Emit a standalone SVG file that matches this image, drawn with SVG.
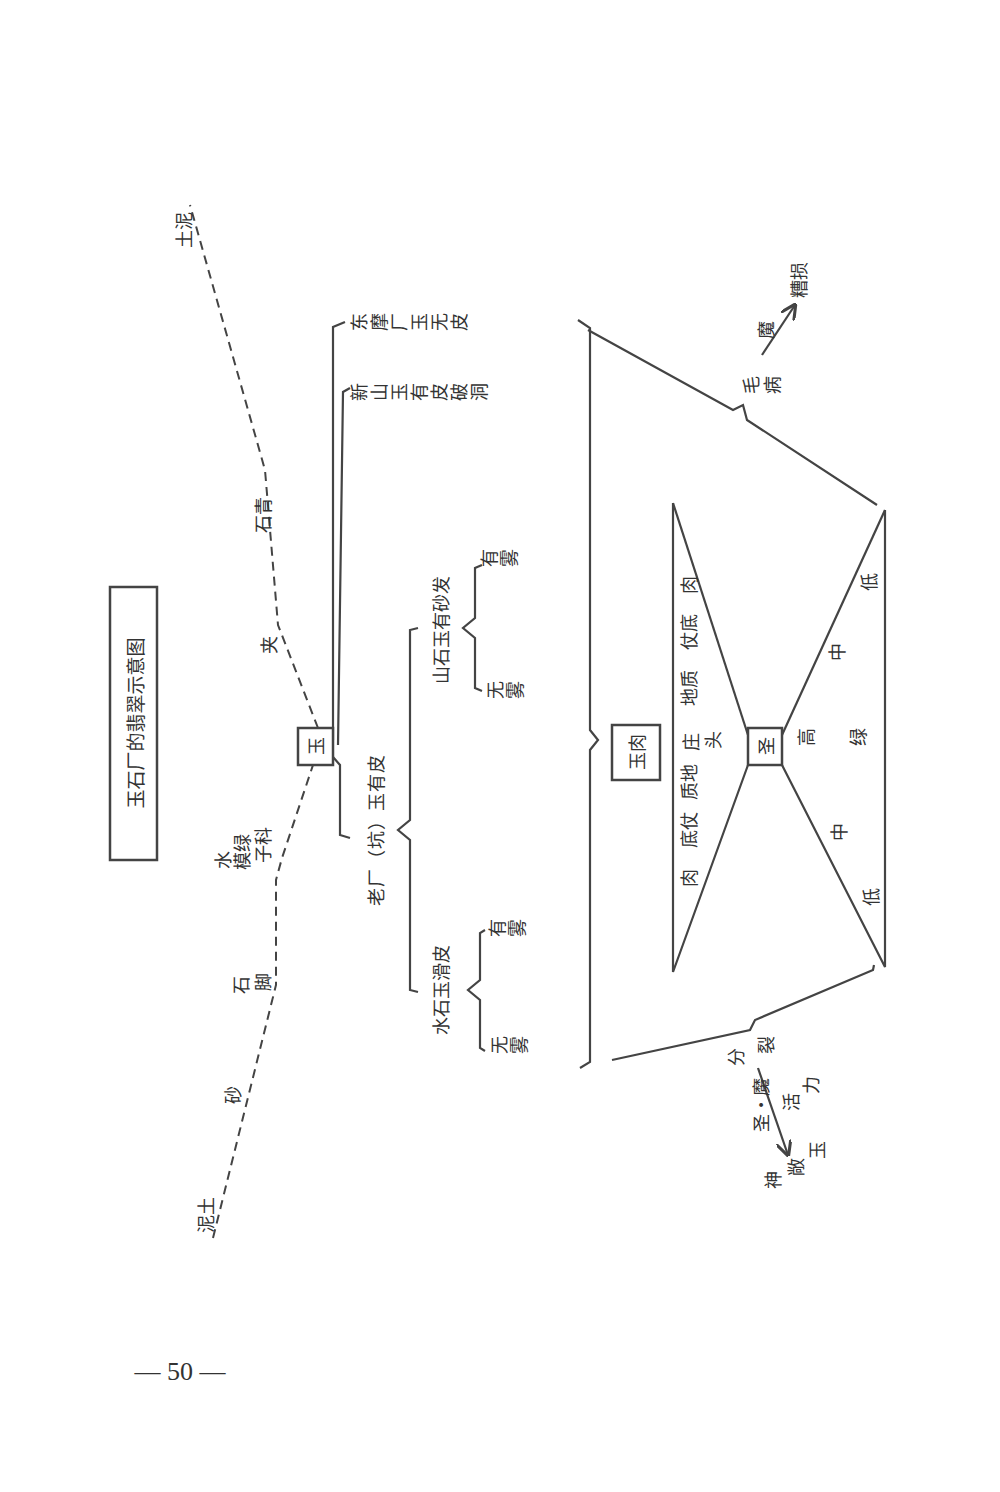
<svg xmlns="http://www.w3.org/2000/svg" width="1000" height="1492" viewBox="0 0 1000 1492">
<style>
text{font-family:"Noto Sans CJK SC","Noto Sans",sans-serif;font-size:18px;fill:#333}
.r{text-anchor:middle;dominant-baseline:central}
.v{writing-mode:vertical-rl;text-anchor:start;letter-spacing:2px}
.ln{fill:none;stroke:#444;stroke-width:2.2}
.d{fill:none;stroke:#444;stroke-width:2;stroke-dasharray:9 6}
.bx{fill:#fff;stroke:#444;stroke-width:2.5}
</style>
<defs><marker id="ah" viewBox="0 0 10 10" refX="9" refY="5" markerWidth="7" markerHeight="7" orient="auto"><path d="M0,0 L10,5 L0,10" fill="none" stroke="#444" stroke-width="2"/></marker></defs>
<rect width="1000" height="1492" fill="#fff"/>
<g id="title"><rect x="110" y="587" width="47" height="273" fill="none" stroke="#444" stroke-width="2.5"/>
<text class="r" transform="translate(134,723) rotate(-90)" style="font-size:19px">玉石厂的翡翠示意图</text></g>
<g id="connectors">
<polyline class="d" points="213,1238 276,985 276,880 282,858 314,762"/>
<polyline class="d" points="318,728 278,625 265,470 190,205"/>
<polyline class="ln" points="333,740 333,327 345,322"/>
<polyline class="ln" points="338,745 343,392 350,388"/>
<polyline class="ln" points="333,757 340,765 340,835 350,838"/>
<polyline class="ln" points="418,628 410,630 410,820 398,830 410,840 410,990 418,992"/>
<polyline class="ln" points="482,565 475,568 475,618 463,628 475,638 475,688 482,691"/>
<polyline class="ln" points="485,930 480,933 480,980 468,990 480,1000 480,1048 485,1051"/>
<polyline class="ln" points="578,320 590,328 590,730 598,740 590,750 590,1062 580,1068"/>
<polyline class="ln" points="588,330 733,410 743,405 747,420 877,505"/>
<polyline class="ln" points="612,1060 750,1030 755,1020 873,970 874,965"/>
<polyline class="ln" points="673,503 673,972 748,765"/>
<line class="ln" x1="673" y1="503" x2="748" y2="735"/>
<polyline class="ln" points="885,510 885,967 782,765"/>
<line class="ln" x1="885" y1="510" x2="782" y2="735"/>
<line class="ln" x1="762" y1="355" x2="795" y2="305" marker-end="url(#ah)"/>
<line class="ln" x1="758" y1="1068" x2="788" y2="1155" marker-end="url(#ah)"/>
</g>
<g id="yu"><rect class="bx" x="298" y="728" width="35" height="37"/><text class="r" transform="translate(315,746) rotate(-90)">玉</text></g>
<g id="yurou"><rect class="bx" x="612" y="725" width="48" height="55"/><text class="r" transform="translate(636,752) rotate(-90)">玉肉</text></g>
<g id="sheng"><rect class="bx" x="748" y="728" width="34" height="37"/><text class="r" transform="translate(765,746) rotate(-90)">圣</text></g>
<g id="labels">
<text class="r" transform="translate(183,230) rotate(-90)">土泥</text>
<text class="r" transform="translate(262,515) rotate(-90)">石青</text>
<text class="r" transform="translate(268,645) rotate(-90)">夹</text>
<text class="r" transform="translate(222,860) rotate(-90)">水</text>
<text class="r" transform="translate(241,852) rotate(-90)">模绿</text>
<text class="r" transform="translate(262,845) rotate(-90)">子科</text>
<text class="r" transform="translate(240,985) rotate(-90)">石</text>
<text class="r" transform="translate(262,982) rotate(-90)">脚</text>
<text class="r" transform="translate(232,1095) rotate(-90)">砂</text>
<text class="r" transform="translate(205,1215) rotate(-90)">泥土</text>
<text class="v" transform="translate(350,322) rotate(-90)">东摩厂玉无皮</text>
<text class="v" transform="translate(350,392) rotate(-90)">新山玉有皮破洞</text>
<text class="r" transform="translate(375,830) rotate(-90)" style="letter-spacing:1px">老厂（坑）玉有皮</text>
<text class="r" transform="translate(440,630) rotate(-90)">山石玉有砂发</text>
<text class="r" transform="translate(440,990) rotate(-90)">水石玉滑皮</text>
<text class="v" transform="translate(480,558) rotate(-90)">有雾</text>
<text class="v" transform="translate(486,690) rotate(-90)">无雾</text>
<text class="v" transform="translate(488,928) rotate(-90)">有雾</text>
<text class="v" transform="translate(490,1045) rotate(-90)">无雾</text>
<text class="r" transform="translate(688,878) rotate(-90)">肉</text>
<text class="r" transform="translate(688,830) rotate(-90)">底仗</text>
<text class="r" transform="translate(688,782) rotate(-90)">质地</text>
<text class="r" transform="translate(690,742) rotate(-90)">庄</text>
<text class="r" transform="translate(712,740) rotate(-90)">头</text>
<text class="r" transform="translate(688,688) rotate(-90)">地质</text>
<text class="r" transform="translate(688,632) rotate(-90)">仗底</text>
<text class="r" transform="translate(688,585) rotate(-90)">肉</text>
<text class="r" transform="translate(805,737) rotate(-90)">高</text>
<text class="r" transform="translate(836,652) rotate(-90)">中</text>
<text class="r" transform="translate(868,582) rotate(-90)">低</text>
<text class="r" transform="translate(857,737) rotate(-90)">绿</text>
<text class="r" transform="translate(838,832) rotate(-90)">中</text>
<text class="r" transform="translate(870,897) rotate(-90)">低</text>
<text class="r" transform="translate(750,385) rotate(-90)">毛</text>
<text class="r" transform="translate(771,385) rotate(-90)">病</text>
<text class="r" transform="translate(765,330) rotate(-90)">魔</text>
<text class="r" transform="translate(798,280) rotate(-90)">糟损</text>
<text class="r" transform="translate(735,1057) rotate(-90)">分</text>
<text class="r" transform="translate(765,1045) rotate(-90)">裂</text>
<text class="r" transform="translate(760,1105) rotate(-90)">圣·魔</text>
<text class="r" transform="translate(790,1102) rotate(-90)">活</text>
<text class="r" transform="translate(810,1085) rotate(-90)">力</text>
<text class="r" transform="translate(772,1180) rotate(-90)">神</text>
<text class="r" transform="translate(795,1167) rotate(-90)">敞</text>
<text class="r" transform="translate(816,1150) rotate(-90)">玉</text>
</g>
<g id="page"><text x="180" y="1380" text-anchor="middle" style="font-family:'Liberation Serif',serif;font-size:26px">—  50  —</text></g>
</svg>
